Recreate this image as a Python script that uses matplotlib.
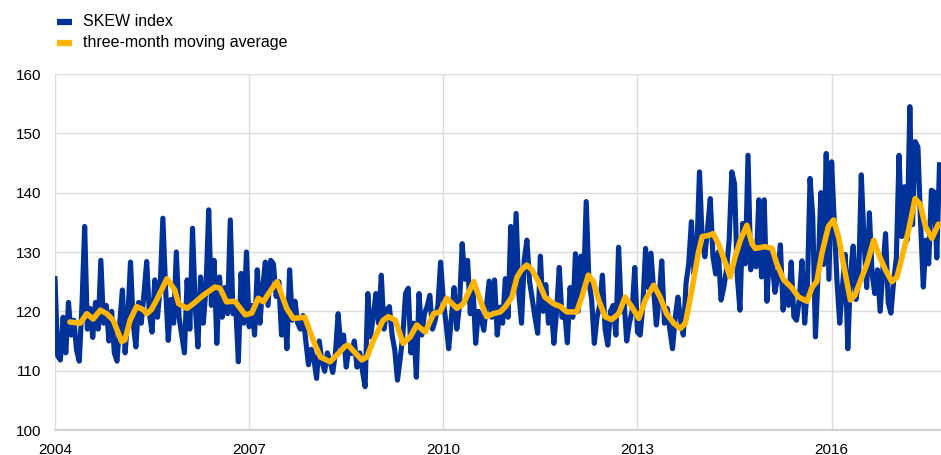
import numpy as np
import matplotlib
matplotlib.use("Agg")
import matplotlib.pyplot as plt
from matplotlib.lines import Line2D

plt.rcParams['font.family'] = ['Liberation Sans', 'DejaVu Sans']

# SKEW index, semi-monthly readings (24 per year)
skew_2004 = [125.5, 112.5, 111.8, 119, 113, 121.5, 116, 118.5, 113.5, 111.6, 121, 134.3,
             117, 120.5, 115.6, 121.5, 117, 128.6, 118, 121, 115, 120, 113, 111.6]
skew_2005 = [118, 123.6, 113, 119, 128.3, 118, 114, 121.5, 118, 123, 128.4, 119.6,
             116.5, 125.3, 119, 124, 135.7, 124, 115.1, 122, 118, 130, 119, 116]
skew_2006 = [113, 125.3, 117, 134, 121, 114, 125.8, 118, 124, 137.1, 121, 128.6,
             114.6, 125.8, 119, 124, 119.6, 135.4, 119.6, 121, 111.5, 126.4, 118, 130]
skew_2007 = [117.4, 121, 116, 127, 118, 124, 128.3, 121, 128.6, 128, 122.5, 125,
             116, 121, 113.7, 127, 118.5, 121.7, 118, 117, 119.3, 115, 111, 113.6]
skew_2008 = [112, 108.7, 115, 111.5, 109.9, 113, 111.6, 109.7, 113, 119.6, 114, 116,
             110.6, 114, 112.9, 115, 110.6, 113, 110, 107.3, 123, 115.7, 119, 123]
skew_2009 = [118, 126.1, 117, 120.2, 120.8, 116, 113.5, 108.4, 112, 116, 123, 123.9,
             113, 118, 108.9, 123, 116, 119.6, 120.8, 122.7, 117, 118.5, 121, 128.3]
skew_2010 = [121.9, 118, 113.7, 119, 124, 117, 121, 131.4, 125.4, 128.6, 119.6, 124,
             114.6, 120, 119, 116.8, 121, 125.1, 119, 125.3, 116, 120.7, 118, 125.5]
skew_2011 = [119, 134.3, 124, 136.5, 123, 118, 128.6, 132, 125, 122, 119, 116.3,
             129.3, 120, 124.5, 118, 121, 114.6, 120, 127.4, 119, 120, 114.7, 124]
skew_2012 = [119, 129.7, 120, 129.3, 124, 138.5, 125, 122, 114.6, 119, 121, 126.1,
             117, 114.3, 120, 121, 116, 130.8, 120, 122, 115, 118, 120, 127.4]
skew_2013 = [116.5, 116, 121, 130.6, 124, 129.8, 123.6, 117.7, 122, 128.5, 118, 120.5,
             117, 113.7, 119, 122.4, 118.5, 116, 124.7, 128, 135.1, 126.3, 130, 143.5]
skew_2014 = [132, 129.2, 134, 139, 129.2, 126.3, 130, 121.9, 124, 127, 132, 143.5,
             141.5, 126, 120.2, 134.8, 128, 146.3, 127, 131, 127.5, 138.8, 125.8, 138.8]
skew_2015 = [121.7, 130.6, 128, 123.2, 126, 131.2, 120.2, 124.7, 121, 128.3, 119.1, 118.5,
             122, 128.5, 118, 124, 142.4, 135.9, 115.7, 126.6, 140, 127.9, 146.6, 125.4]
skew_2016 = [145.2, 134.8, 125, 118, 124, 129.6, 113.7, 126.4, 131, 122, 125, 143,
             132, 124, 136.6, 126.4, 123, 127, 120, 127, 133.1, 121.4, 119.7, 125.1]
skew_2017 = [129, 146.3, 132.6, 141, 132, 154.5, 134.6, 148.6, 147.7, 134.8, 124.1, 132,
             128, 140.4, 140.1, 129, 144.7]

# three-month moving average (decimal year, value)
ma_dates = [2004.23, 2004.39, 2004.49, 2004.59, 2004.70, 2004.80, 2004.90, 2005.03, 2005.08,
            2005.16, 2005.26, 2005.36, 2005.42, 2005.49, 2005.57, 2005.73, 2005.85, 2005.91,
            2006.04, 2006.14, 2006.29, 2006.47, 2006.55, 2006.65, 2006.78, 2006.94, 2007.04,
            2007.14, 2007.22, 2007.30, 2007.43, 2007.58, 2007.68, 2007.86, 2007.99, 2008.10,
            2008.25, 2008.38, 2008.48, 2008.53, 2008.74, 2008.82, 2008.92, 2009.07, 2009.15,
            2009.26, 2009.38, 2009.49, 2009.59, 2009.72, 2009.85, 2009.95, 2010.05, 2010.21,
            2010.31, 2010.47, 2010.57, 2010.67, 2010.77, 2010.88, 2010.96, 2011.06, 2011.14,
            2011.21, 2011.29, 2011.37, 2011.47, 2011.57, 2011.70, 2011.81, 2011.91, 2012.06,
            2012.14, 2012.24, 2012.32, 2012.40, 2012.50, 2012.60, 2012.71, 2012.81, 2012.91,
            2013.02, 2013.12, 2013.25, 2013.35, 2013.45, 2013.56, 2013.66, 2013.74, 2013.84,
            2013.94, 2014.00, 2014.10, 2014.17, 2014.25, 2014.36, 2014.43, 2014.51, 2014.59,
            2014.69, 2014.77, 2014.82, 2014.97, 2015.08, 2015.15, 2015.26, 2015.39, 2015.49,
            2015.62, 2015.70, 2015.77, 2015.85, 2015.95, 2016.03, 2016.11, 2016.18, 2016.29,
            2016.36, 2016.47, 2016.55, 2016.65, 2016.72, 2016.83, 2016.93, 2017.01, 2017.09,
            2017.19, 2017.29, 2017.37, 2017.45, 2017.55, 2017.65]
ma_values = [118.2, 118.0, 119.6, 118.7, 120.2, 119.6, 118.5, 114.9, 115.2,
             118.5, 120.8, 120.3, 119.6, 120.3, 121.9, 125.5, 123.6, 121.3,
             120.5, 121.3, 122.7, 124.1, 123.9, 121.6, 121.7, 119.4, 119.7,
             122.2, 121.6, 123.0, 125.0, 120.5, 118.8, 119.0, 115.1, 112.3,
             111.5, 112.9, 114.1, 114.3, 111.8, 112.3, 115.1, 118.5, 119.1,
             118.5, 114.6, 115.7, 117.7, 116.5, 119.6, 119.9, 122.2, 120.5,
             121.3, 125.0, 121.9, 119.1, 119.6, 119.9, 120.8, 122.4, 125.8,
             127.0, 127.8, 127.0, 125.0, 122.4, 121.3, 120.8, 119.9, 119.9,
             122.4, 126.1, 125.0, 121.9, 119.1, 118.6, 119.6, 122.4, 120.8,
             118.8, 121.9, 124.4, 122.4, 119.6, 118.0, 117.1, 118.0, 123.6,
             129.8, 132.6, 132.8, 133.1, 131.4, 128.1, 125.8, 129.2, 132.0,
             134.5, 131.4, 130.6, 130.9, 130.6, 128.1, 125.3, 123.9, 122.4,
             121.7, 124.1, 125.0, 129.8, 134.3, 135.4, 132.4, 128.1, 121.9,
             122.7, 125.8, 128.1, 132.0, 129.8, 127.0, 125.0, 125.8, 129.2,
             133.7, 139.0, 138.0, 134.3, 132.3, 134.7]

years = [2004, 2005, 2006, 2007, 2008, 2009, 2010, 2011, 2012, 2013, 2014, 2015, 2016, 2017]
skew_by_year = [skew_2004, skew_2005, skew_2006, skew_2007, skew_2008, skew_2009, skew_2010,
                skew_2011, skew_2012, skew_2013, skew_2014, skew_2015, skew_2016, skew_2017]

skew_dates = []
skew_values = []
for y, vals in zip(years, skew_by_year):
    for k, v in enumerate(vals):
        skew_dates.append(y + k / 24.0)
        skew_values.append(v)

x_ticks = [2004, 2007, 2010, 2013, 2016]
y_ticks = [100, 110, 120, 130, 140, 150, 160]

BLUE = '#003299'
YELLOW = '#FFB400'
GRID = '#dcdcdc'

fig = plt.figure(figsize=(9.41, 4.55), dpi=100)
W, H = 941, 455
ax = fig.add_axes([55 / W, 1 - 430 / H, 1 - 55 / W, (430 - 74) / H])

ax.plot(skew_dates, skew_values, color=BLUE, lw=3.7, solid_joinstyle='round', zorder=3)
ax.plot(ma_dates, ma_values, color=YELLOW, lw=4.0, solid_joinstyle='round',
        solid_capstyle='round', zorder=4)

ax.set_xlim(2004, 2017.69)
ax.set_ylim(100, 160)
ax.set_xticks(x_ticks)
ax.set_xticklabels([str(t) for t in x_ticks])
ax.set_yticks(y_ticks)
ax.set_yticklabels([str(t) for t in y_ticks])
ax.tick_params(axis='both', length=0, labelsize=11, colors='black')
ax.tick_params(axis='y', pad=10)
ax.tick_params(axis='x', pad=9)

ax.grid(True, color=GRID, lw=1.0, zorder=0)
ax.set_axisbelow(True)
for s in ['top', 'right', 'left']:
    ax.spines[s].set_visible(False)
ax.spines['bottom'].set_color('#d0d0d0')
ax.spines['bottom'].set_linewidth(1.5)

# legend
fig.add_artist(Line2D([57 / W, 72 / W], [1 - 22 / H, 1 - 22 / H], color=BLUE, lw=4.5,
                      solid_capstyle='butt'))
fig.add_artist(Line2D([57 / W, 72 / W], [1 - 43 / H, 1 - 43 / H], color=YELLOW, lw=4.5,
                      solid_capstyle='butt'))
fig.text(83 / W, 1 - 22 / H, 'SKEW index', fontsize=11.5, va='center', ha='left')
fig.text(83 / W, 1 - 43 / H, 'three-month moving average', fontsize=11.5, va='center', ha='left')

fig.savefig('out.png', dpi=100)
